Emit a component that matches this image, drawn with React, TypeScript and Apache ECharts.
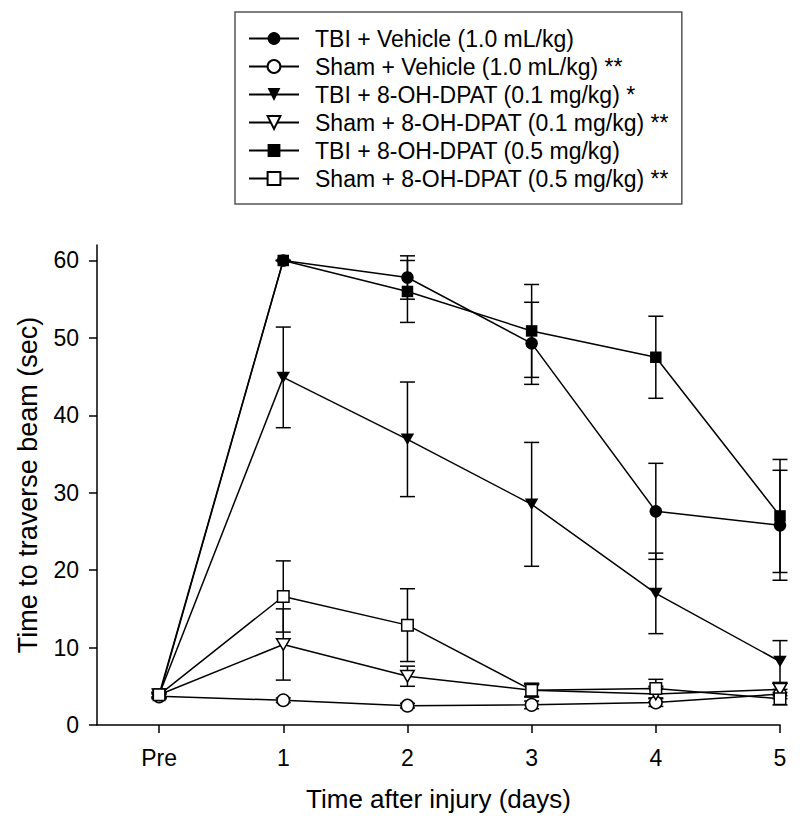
import React, { useEffect, useRef } from "react";
import * as echarts from "echarts";

const dayLabels = ["Pre", "1", "2", "3", "4", "5"];
const dayPos = [0, 1, 2, 3, 4, 5];
const yTicks = [0, 10, 20, 30, 40, 50, 60];

const tbiVehicle = [3.7, 60, 57.8, 49.3, 27.6, 25.8];
const tbiVehicleSem = [0.3, 0, 2.8, 5.3, 6.2, 7.1];
const shamVehicle = [3.7, 3.2, 2.5, 2.6, 2.9, 4.0];
const shamVehicleSem = [0.3, 0.3, 0.3, 0.5, 0.5, 0.6];
const tbiDpat01 = [3.9, 44.9, 36.9, 28.5, 17.0, 8.2];
const tbiDpat01Sem = [0.3, 6.5, 7.4, 8.0, 5.2, 2.7];
const shamDpat01 = [3.9, 10.4, 6.3, 4.5, 4.0, 4.6];
const shamDpat01Sem = [0.3, 4.6, 1.3, 0.8, 1.0, 0.8];
const tbiDpat05 = [3.9, 60, 56.0, 50.9, 47.5, 27.0];
const tbiDpat05Sem = [0.3, 0, 4.0, 6.0, 5.3, 7.3];
const shamDpat05 = [3.9, 16.6, 12.9, 4.5, 4.7, 3.4];
const shamDpat05Sem = [0.3, 4.6, 4.7, 0.9, 1.2, 0.8];

const groupNames = [
  "TBI + Vehicle (1.0 mL/kg)",
  "Sham + Vehicle (1.0 mL/kg) **",
  "TBI + 8-OH-DPAT (0.1 mg/kg) *",
  "Sham + 8-OH-DPAT (0.1 mg/kg) **",
  "TBI + 8-OH-DPAT (0.5 mg/kg)",
  "Sham + 8-OH-DPAT (0.5 mg/kg) **",
];

const FONT = "'Liberation Sans', Arial, sans-serif";

export default function App() {
  const ref = useRef<HTMLDivElement>(null);

  useEffect(() => {
    if (!ref.current) return;
    const chart = echarts.init(ref.current, null, { renderer: "svg" });

    const groups = [
      { name: groupNames[0], mean: tbiVehicle, sem: tbiVehicleSem, symbol: "circle", size: 12.5, open: false, rot: 0 },
      { name: groupNames[1], mean: shamVehicle, sem: shamVehicleSem, symbol: "circle", size: 12.5, open: true, rot: 0 },
      { name: groupNames[2], mean: tbiDpat01, sem: tbiDpat01Sem, symbol: "triangle", size: [13.5, 11.5], open: false, rot: 180 },
      { name: groupNames[3], mean: shamDpat01, sem: shamDpat01Sem, symbol: "triangle", size: [13.5, 11.5], open: true, rot: 180 },
      { name: groupNames[4], mean: tbiDpat05, sem: tbiDpat05Sem, symbol: "rect", size: 11.5, open: false, rot: 0 },
      { name: groupNames[5], mean: shamDpat05, sem: shamDpat05Sem, symbol: "rect", size: 11.5, open: true, rot: 0 },
    ];

    const errData: number[][] = [];
    groups.forEach((g) => {
      g.mean.forEach((m, i) => {
        errData.push([dayPos[i], m - g.sem[i], m + g.sem[i]]);
      });
    });

    const lineSeries = groups.map((g) => ({
      type: "line",
      name: g.name,
      data: g.mean.map((m, i) => [dayPos[i], m]),
      symbol: g.symbol,
      symbolSize: g.size,
      symbolRotate: g.rot,
      showAllSymbol: true,
      clip: false,
      z: 3,
      lineStyle: { color: "#000", width: 1.5 },
      itemStyle: g.open
        ? { color: "#fff", borderColor: "#000", borderWidth: 1.5 }
        : { color: "#000", borderColor: "#000", borderWidth: 0 },
      emphasis: { disabled: true },
    }));

    const option: any = {
      animation: false,
      backgroundColor: "#fff",
      textStyle: { fontFamily: FONT, color: "#000" },
      legend: {
        data: groupNames,
        orient: "vertical",
        left: 235,
        top: 12,
        padding: [15, 13, 14, 13],
        itemWidth: 50,
        itemHeight: 16,
        itemGap: 5,
        borderColor: "#555",
        borderWidth: 1.5,
        selectedMode: false,
        textStyle: {
          fontFamily: FONT,
          fontSize: 23,
          lineHeight: 22,
          color: "#000",
          padding: [0, 0, 0, 11],
        },
      },
      grid: { left: 97, right: 20, top: 245, bottom: 99, containLabel: false },
      xAxis: {
        type: "value",
        min: -0.5,
        max: 5,
        name: "Time after injury (days)",
        nameLocation: "middle",
        nameGap: 61,
        nameTextStyle: { fontFamily: FONT, fontSize: 26, color: "#000" },
        axisLine: { show: true, onZero: false, lineStyle: { color: "#000", width: 1.5 } },
        axisTick: {
          show: true,
          customValues: dayPos,
          length: 8,
          inside: false,
          lineStyle: { color: "#000", width: 1.5 },
        },
        axisLabel: {
          customValues: dayPos,
          margin: 21,
          fontFamily: FONT,
          fontSize: 23,
          color: "#000",
          formatter: (v: number) => dayLabels[Math.round(v)] ?? "",
        },
        splitLine: { show: false },
      },
      yAxis: {
        type: "value",
        min: 0,
        max: 62,
        name: "Time to traverse beam (sec)",
        nameLocation: "middle",
        nameGap: 56,
        nameTextStyle: { fontFamily: FONT, fontSize: 27, color: "#000" },
        axisLine: { show: true, onZero: false, lineStyle: { color: "#000", width: 1.5 } },
        axisTick: {
          show: true,
          customValues: yTicks,
          length: 8,
          inside: false,
          lineStyle: { color: "#000", width: 1.5 },
        },
        axisLabel: {
          customValues: yTicks,
          margin: 18,
          fontFamily: FONT,
          fontSize: 23,
          color: "#000",
        },
        splitLine: { show: false },
      },
      series: [
        {
          type: "custom",
          name: "errorbars",
          data: errData,
          encode: { x: 0, y: [1, 2] },
          z: 1,
          silent: true,
          renderItem: (params: any, api: any) => {
            const x = api.value(0);
            const lo = api.coord([x, api.value(1)]);
            const hi = api.coord([x, api.value(2)]);
            const w = 7.5;
            const style = { stroke: "#000", lineWidth: 1.5 };
            return {
              type: "group",
              children: [
                { type: "line", shape: { x1: lo[0], y1: lo[1], x2: hi[0], y2: hi[1] }, style },
                { type: "line", shape: { x1: hi[0] - w, y1: hi[1], x2: hi[0] + w, y2: hi[1] }, style },
                { type: "line", shape: { x1: lo[0] - w, y1: lo[1], x2: lo[0] + w, y2: lo[1] }, style },
              ],
            };
          },
        },
        ...lineSeries,
      ],
    };

    chart.setOption(option);
    return () => chart.dispose();
  }, []);

  return (
    <div
      ref={ref}
      style={{ position: "absolute", left: 0, top: 0, width: 800, height: 824, background: "#fff" }}
    />
  );
}
